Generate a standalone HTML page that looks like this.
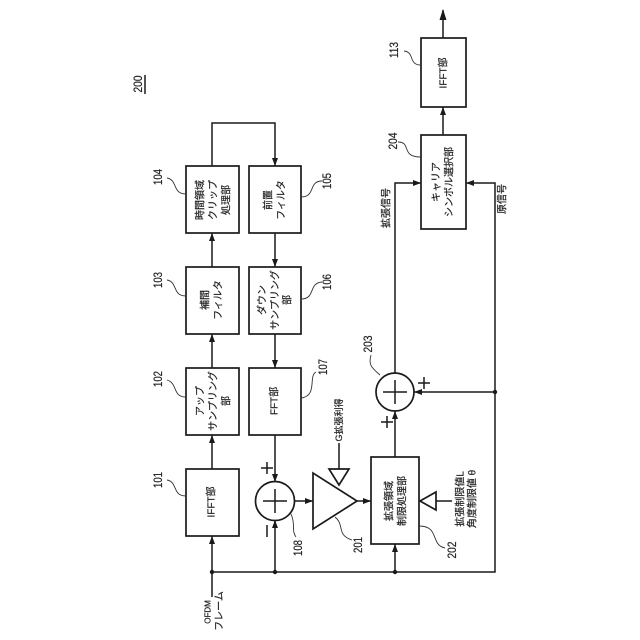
<!DOCTYPE html>
<html><head><meta charset="utf-8"><style>
html,body{margin:0;padding:0;background:#fff}
svg{display:block}
text{font-family:"Liberation Sans","Noto Sans CJK JP",sans-serif;font-size:10px;fill:#222;stroke:#222;stroke-width:.2;text-anchor:middle;dominant-baseline:central}
.n{font-size:12px}
.l{fill:none;stroke:#1a1a1a;stroke-width:1.5}
.b{fill:#fff;stroke:#1a1a1a;stroke-width:1.7}
.s{fill:none;stroke:#333;stroke-width:.9}
.a{fill:#1a1a1a;stroke:none}
</style></head><body>
<svg width="640" height="640" viewBox="0 0 640 640" xmlns="http://www.w3.org/2000/svg">
<!-- connectors -->
<path class="l" d="M212 597V536M212 469V435M212 368V334M212 267V233M212 166V123H275V166M275 233V267M275 334V368M275 435V482M275 572V520M212 572H495V183H466M294 501H313M357 501H371M395 572V544M395 457V411M395 373V183H421M495 392H414M443 135V107M443 38V10M339 469V443M436 501H452"/>
<!-- arrowheads: up -->
<path class="a" d="M212 536l-3 8h6zM212 435l-3 8h6zM212 334l-3 8h6zM212 233l-3 8h6zM275 520l-3 8h6zM395 544l-3 8h6zM395 411l-3 8h6zM443 107l-3 8h6zM443 9l-3.5 11h7z"/>
<!-- arrowheads: down -->
<path class="a" d="M275 166l-3 -8h6zM275 267l-3 -8h6zM275 368l-3 -8h6zM275 482l-3 -8h6z"/>
<!-- arrowheads: right / left -->
<path class="a" d="M313 501l-8 -3v6zM371 501l-8 -3v6zM421 183l-8 -3v6zM466 183l8 -3v6zM414 392l8 -3v6z"/>
<!-- junction dots -->
<circle class="a" cx="212" cy="572" r="2.2"/><circle class="a" cx="275" cy="572" r="2.2"/><circle class="a" cx="395" cy="572" r="2.2"/><circle class="a" cx="495" cy="392" r="2.2"/>
<!-- boxes -->
<rect class="b" x="186" y="166" width="53" height="67"/>
<rect class="b" x="249" y="166" width="52" height="67"/>
<rect class="b" x="186" y="267" width="53" height="67"/>
<rect class="b" x="249" y="267" width="52" height="67"/>
<rect class="b" x="186" y="368" width="53" height="67"/>
<rect class="b" x="249" y="368" width="52" height="67"/>
<rect class="b" x="186" y="469" width="53" height="67"/>
<rect class="b" x="371" y="457" width="48" height="87"/>
<rect class="b" x="421" y="135" width="45" height="94"/>
<rect class="b" x="421" y="38" width="45" height="69"/>
<!-- summers -->
<circle class="b" cx="275" cy="501" r="19.5"/>
<path class="l" d="M263 501H287M275 489V513"/>
<circle class="b" cx="395" cy="392" r="19"/>
<path class="l" d="M383 392H407M395 380V404"/>
<!-- triangles -->
<path class="b" d="M313 473V529L357 501Z"/>
<path class="b" d="M329 469H349L339 485Z"/>
<path class="b" d="M436 492V510L420 501Z"/>
<!-- plus / minus -->
<path class="l" d="M261 468H273M267 462V474M267 525V537M418 383H430M424 377V389M381 422H393M387 416V428"/>
<!-- 200 underline -->
<path class="l" d="M145 75V94"/>
<!-- squiggles -->
<path class="s" d="M186 194C172 194 178 180 167 178"/>
<path class="s" d="M186 296C172 296 178 282 167 280"/>
<path class="s" d="M186 397C172 397 178 383 167 380"/>
<path class="s" d="M186 496C172 496 178 482 167 480"/>
<path class="s" d="M301 197C316 197 308 181 322 181"/>
<path class="s" d="M301 299C316 299 308 283 322 282"/>
<path class="s" d="M301 398C318 396 308 376 316 372"/>
<path class="s" d="M291 514C296 525 291 530 296 537"/>
<path class="s" d="M335 517C345 525 336 535 352 540"/>
<path class="s" d="M419 526C440 526 430 545 445 548"/>
<path class="s" d="M380 375C372 368 368 365 371 355"/>
<path class="s" d="M421 157C400 157 412 142 398 142"/>
<path class="s" d="M421 65C408 65 415 52 404 51"/>
<!-- numbers -->
<g>
<text class="n" textLength="16" lengthAdjust="spacingAndGlyphs" transform="translate(158 177) rotate(-90)">104</text>
<text class="n" textLength="16" lengthAdjust="spacingAndGlyphs" transform="translate(158 280) rotate(-90)">103</text>
<text class="n" textLength="16" lengthAdjust="spacingAndGlyphs" transform="translate(158 379) rotate(-90)">102</text>
<text class="n" textLength="16" lengthAdjust="spacingAndGlyphs" transform="translate(158 480) rotate(-90)">101</text>
<text class="n" textLength="16" lengthAdjust="spacingAndGlyphs" transform="translate(327 181) rotate(-90)">105</text>
<text class="n" textLength="16" lengthAdjust="spacingAndGlyphs" transform="translate(327 282) rotate(-90)">106</text>
<text class="n" textLength="16" lengthAdjust="spacingAndGlyphs" transform="translate(323 367) rotate(-90)">107</text>
<text class="n" textLength="16" lengthAdjust="spacingAndGlyphs" transform="translate(298 548) rotate(-90)">108</text>
<text class="n" textLength="16" lengthAdjust="spacingAndGlyphs" transform="translate(358 545) rotate(-90)">201</text>
<text class="n" textLength="17" lengthAdjust="spacingAndGlyphs" transform="translate(452 550) rotate(-90)">202</text>
<text class="n" textLength="17" lengthAdjust="spacingAndGlyphs" transform="translate(368 344) rotate(-90)">203</text>
<text class="n" textLength="17" lengthAdjust="spacingAndGlyphs" transform="translate(393 141) rotate(-90)">204</text>
<text class="n" textLength="16" lengthAdjust="spacingAndGlyphs" transform="translate(394 50) rotate(-90)">113</text>
<text class="n" textLength="17" lengthAdjust="spacingAndGlyphs" transform="translate(138 84) rotate(-90)">200</text>
</g>
<!-- box labels -->
<text transform="translate(201 200) rotate(-90)">時間領域</text>
<text transform="translate(214 200) rotate(-90)">クリップ</text>
<text transform="translate(227 200) rotate(-90)">処理部</text>
<text transform="translate(269 200) rotate(-90)">前置</text>
<text transform="translate(282 200) rotate(-90)">フィルタ</text>
<text transform="translate(206 300) rotate(-90)">補間</text>
<text transform="translate(219 300) rotate(-90)">フィルタ</text>
<text transform="translate(263 300) rotate(-90)">ダウン</text>
<text transform="translate(276 300) rotate(-90)">サンプリング</text>
<text transform="translate(288 300) rotate(-90)">部</text>
<text transform="translate(201 401) rotate(-90)">アップ</text>
<text transform="translate(214 401) rotate(-90)">サンプリング</text>
<text transform="translate(227 401) rotate(-90)">部</text>
<text transform="translate(275 401) rotate(-90)">FFT部</text>
<text transform="translate(212 502) rotate(-90)">IFFT部</text>
<text transform="translate(390 501) rotate(-90)">拡張領域</text>
<text transform="translate(403 501) rotate(-90)">制限処理部</text>
<text transform="translate(437 182) rotate(-90)">キャリア</text>
<text transform="translate(450 182) rotate(-90)">シンボル選択部</text>
<text transform="translate(444 73) rotate(-90)">IFFT部</text>
<!-- signal labels -->
<text transform="translate(208 612) rotate(-90)" style="font-size:8px">OFDM</text>
<text transform="translate(220 611) rotate(-90)">フレーム</text>
<text transform="translate(339 420) rotate(-90)" style="font-size:9px">G拡張利得</text>
<text transform="translate(461 499) rotate(-90)">拡張制限値L</text>
<text transform="translate(473 499) rotate(-90)">角度制限値 θ</text>
<text transform="translate(387 208) rotate(-90)">拡張信号</text>
<text transform="translate(503 199) rotate(-90)">原信号</text>
</svg>
</body></html>
